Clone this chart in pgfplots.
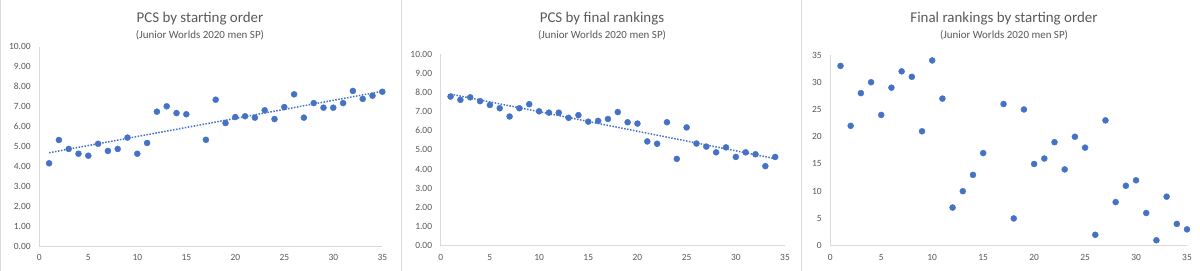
\documentclass[border=0pt]{standalone}
\usepackage{fontspec}
\setmainfont{Carlito}
\usepackage{pgfplots}
\usepackage{pgfplotstable}
\pgfplotsset{compat=1.18}

\definecolor{ptblue}{HTML}{4472C4}
\definecolor{txtgray}{HTML}{595959}
\definecolor{linegray}{HTML}{D9D9D9}

% Junior Worlds 2020, men's short program (skater 16 withdrew)
\pgfplotstableread{
start rank pcs
1  33 4.15
2  22 5.32
3  28 4.87
4  30 4.63
5  24 4.53
6  29 5.13
7  32 4.77
8  31 4.87
9  21 5.44
10 34 4.63
11 27 5.17
12 7  6.74
13 10 7.01
14 13 6.67
15 17 6.61
17 26 5.33
18 5  7.34
19 25 6.17
20 15 6.47
21 16 6.51
22 19 6.44
23 14 6.81
24 20 6.37
25 18 6.97
26 2  7.61
27 23 6.44
28 8  7.17
29 11 6.94
30 12 6.94
31 6  7.17
32 1  7.78
33 9  7.38
34 4  7.54
35 3  7.74
}\bystart

\pgfplotstableread{
rank pcs
1  7.78
2  7.61
3  7.74
4  7.54
5  7.34
6  7.17
7  6.74
8  7.17
9  7.38
10 7.01
11 6.94
12 6.94
13 6.67
14 6.81
15 6.47
16 6.51
17 6.61
18 6.97
19 6.44
20 6.37
21 5.44
22 5.32
23 6.44
24 4.53
25 6.17
26 5.33
27 5.17
28 4.87
29 5.13
30 4.63
31 4.87
32 4.77
33 4.15
34 4.63
}\byrank

\pgfplotsset{
  panel/.style={
    scale only axis,
    anchor=origin,
    axis x line=bottom,
    axis y line=left,
    axis line style={-, draw=linegray, line width=0.75bp},
    tick style={draw=none},
    xmin=0, xmax=35, xtick={0,5,...,35},
    /pgf/number format/assume math mode=true,
    tick label style={font=\fontsize{9.5}{11}\selectfont, text=txtgray},
    xticklabel style={yshift=-3bp},
    yticklabel style={xshift=-3bp},
    clip=false,
  },
  pcsy/.style={
    ymin=0, ymax=10, ytick={0,1,...,10},
    yticklabel style={/pgf/number format/fixed,
      /pgf/number format/fixed zerofill,
      /pgf/number format/precision=2},
  },
  dots/.style={only marks, mark=*, mark size=3bp,
    mark options={draw=ptblue, fill=ptblue}},
  trend/.style={no marks, draw=ptblue, line width=1.5bp,
    dash pattern=on 1.5bp off 1.5bp},
}

\begin{document}
\begin{tikzpicture}
\path[use as bounding box, fill=white] (0bp,0bp) rectangle (1200bp,271bp);

% chart frames
\draw[linegray, line width=0.75bp] (0.5bp,0bp) -- (0.5bp,271bp);
\draw[linegray, line width=0.75bp] (401bp,0bp) -- (401bp,271bp);
\draw[linegray, line width=0.75bp] (801bp,0bp) -- (801bp,271bp);

% titles
\begin{scope}[every node/.style={text=txtgray, inner sep=0pt}]
\node[font=\fontsize{15}{17}\selectfont] at (200bp,252bp) {PCS by starting order};
\node[font=\fontsize{11}{13}\selectfont] at (200bp,235.5bp) {(Junior Worlds 2020 men SP)};
\node[font=\fontsize{15}{17}\selectfont] at (602bp,252bp) {PCS by final rankings};
\node[font=\fontsize{11}{13}\selectfont] at (602bp,235.5bp) {(Junior Worlds 2020 men SP)};
\node[font=\fontsize{15}{17}\selectfont] at (1004bp,252bp) {Final rankings by starting order};
\node[font=\fontsize{11}{13}\selectfont] at (1004bp,235.5bp) {(Junior Worlds 2020 men SP)};
\end{scope}

% PCS by starting order
\begin{axis}[panel, pcsy, at={(39.3bp,25bp)}, width=343bp, height=199.3bp]
  \addplot[trend] table[x=start, y={create col/linear regression={x=start, y=pcs}}] {\bystart};
  \addplot[dots] table[x=start, y=pcs] {\bystart};
\end{axis}

% PCS by final rankings
\begin{axis}[panel, pcsy, at={(440.7bp,25.3bp)}, width=344.3bp, height=191.7bp]
  \addplot[trend] table[x=rank, y={create col/linear regression={x=rank, y=pcs}}] {\byrank};
  \addplot[dots] table[x=rank, y=pcs] {\byrank};
\end{axis}

% Final rankings by starting order
\begin{axis}[panel, at={(830.3bp,25.3bp)}, width=356.7bp, height=190.7bp,
    ymin=0, ymax=35, ytick={0,5,...,35}]
  \addplot[dots] table[x=start, y=rank] {\bystart};
\end{axis}
\end{tikzpicture}
\end{document}
